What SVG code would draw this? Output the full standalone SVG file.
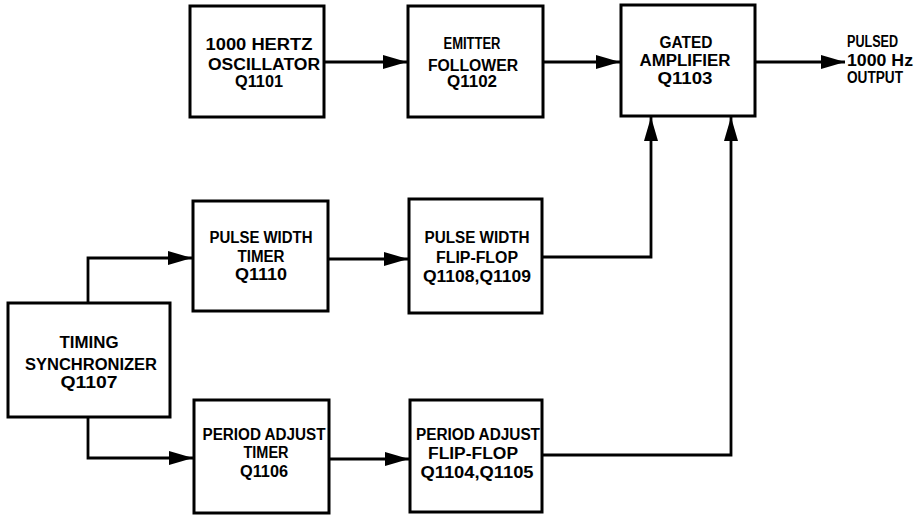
<svg xmlns="http://www.w3.org/2000/svg" width="922" height="516" viewBox="0 0 922 516">
<style>
.box{fill:#fff;stroke:#000;stroke-width:3}
.wire{fill:none;stroke:#000;stroke-width:2.8;stroke-linejoin:miter}
text{font-family:"Liberation Sans",Arial,sans-serif;font-weight:bold;font-size:16px;fill:#000;text-anchor:middle}
.out{text-anchor:start}
</style>
<defs>
<marker id="ah" markerUnits="userSpaceOnUse" markerWidth="24" markerHeight="14" refX="24" refY="7" orient="auto">
<path d="M0,0 L24,7 L0,14 z" fill="#000"/>
</marker>
</defs>
<rect width="922" height="516" fill="#fff"/>
<g id="connectors">
<path class="wire" d="M324,62 H407" marker-end="url(#ah)"/>
<path class="wire" d="M543,62 H620" marker-end="url(#ah)"/>
<path class="wire" d="M755,62 H845" marker-end="url(#ah)"/>
<path class="wire" d="M88,303 V258 H192" marker-end="url(#ah)"/>
<path class="wire" d="M88,417 V458 H193" marker-end="url(#ah)"/>
<path class="wire" d="M328,259 H408" marker-end="url(#ah)"/>
<path class="wire" d="M329,459 H409" marker-end="url(#ah)"/>
<path class="wire" d="M542,257 H651 V117" marker-end="url(#ah)"/>
<path class="wire" d="M542,455 H731 V117" marker-end="url(#ah)"/>
</g>
<g id="osc">
<rect class="box" x="190" y="6" width="134" height="111"/>
<text x="259" y="50" textLength="107" lengthAdjust="spacingAndGlyphs">1000 HERTZ</text>
<text x="264" y="70" textLength="112" lengthAdjust="spacingAndGlyphs">OSCILLATOR</text>
<text x="259" y="87" textLength="48" lengthAdjust="spacingAndGlyphs">Q1101</text>
</g>
<g id="emitter">
<rect class="box" x="408" y="6" width="135" height="111"/>
<text x="472" y="49" textLength="57" lengthAdjust="spacingAndGlyphs">EMITTER</text>
<text x="473" y="71" textLength="90" lengthAdjust="spacingAndGlyphs">FOLLOWER</text>
<text x="472" y="87" textLength="50" lengthAdjust="spacingAndGlyphs">Q1102</text>
</g>
<g id="gated">
<rect class="box" x="621" y="5" width="134" height="111"/>
<text x="686" y="48" textLength="53" lengthAdjust="spacingAndGlyphs">GATED</text>
<text x="685" y="66" textLength="91" lengthAdjust="spacingAndGlyphs">AMPLIFIER</text>
<text x="685" y="84" textLength="55" lengthAdjust="spacingAndGlyphs">Q1103</text>
</g>
<g id="output">
<text class="out" x="847" y="47" textLength="51" lengthAdjust="spacingAndGlyphs">PULSED</text>
<text class="out" x="847" y="66" textLength="66" lengthAdjust="spacingAndGlyphs">1000 Hz</text>
<text class="out" x="847" y="83" textLength="56" lengthAdjust="spacingAndGlyphs">OUTPUT</text>
</g>
<g id="pwtimer">
<rect class="box" x="193" y="201" width="135" height="110"/>
<text x="261" y="243" textLength="103" lengthAdjust="spacingAndGlyphs">PULSE WIDTH</text>
<text x="261" y="262" textLength="47" lengthAdjust="spacingAndGlyphs">TIMER</text>
<text x="261" y="280" textLength="52" lengthAdjust="spacingAndGlyphs">Q1110</text>
</g>
<g id="pwflipflop">
<rect class="box" x="409" y="199" width="133" height="114"/>
<text x="477" y="243" textLength="105" lengthAdjust="spacingAndGlyphs">PULSE WIDTH</text>
<text x="477" y="263" textLength="82" lengthAdjust="spacingAndGlyphs">FLIP-FLOP</text>
<text x="477" y="282" textLength="108" lengthAdjust="spacingAndGlyphs">Q1108,Q1109</text>
</g>
<g id="timing">
<rect class="box" x="8" y="303" width="162" height="114"/>
<text x="89" y="348" textLength="59" lengthAdjust="spacingAndGlyphs">TIMING</text>
<text x="91" y="370" textLength="132" lengthAdjust="spacingAndGlyphs">SYNCHRONIZER</text>
<text x="89" y="388" textLength="57" lengthAdjust="spacingAndGlyphs">Q1107</text>
</g>
<g id="patimer">
<rect class="box" x="194" y="400" width="135" height="113"/>
<text x="264" y="440" textLength="123" lengthAdjust="spacingAndGlyphs">PERIOD ADJUST</text>
<text x="266" y="458" textLength="45" lengthAdjust="spacingAndGlyphs">TIMER</text>
<text x="264" y="477" textLength="48" lengthAdjust="spacingAndGlyphs">Q1106</text>
</g>
<g id="paflipflop">
<rect class="box" x="410" y="400" width="132" height="112"/>
<text x="478" y="440" textLength="124" lengthAdjust="spacingAndGlyphs">PERIOD ADJUST</text>
<text x="473" y="459" textLength="90" lengthAdjust="spacingAndGlyphs">FLIP-FLOP</text>
<text x="477" y="478" textLength="113" lengthAdjust="spacingAndGlyphs">Q1104,Q1105</text>
</g>
</svg>
